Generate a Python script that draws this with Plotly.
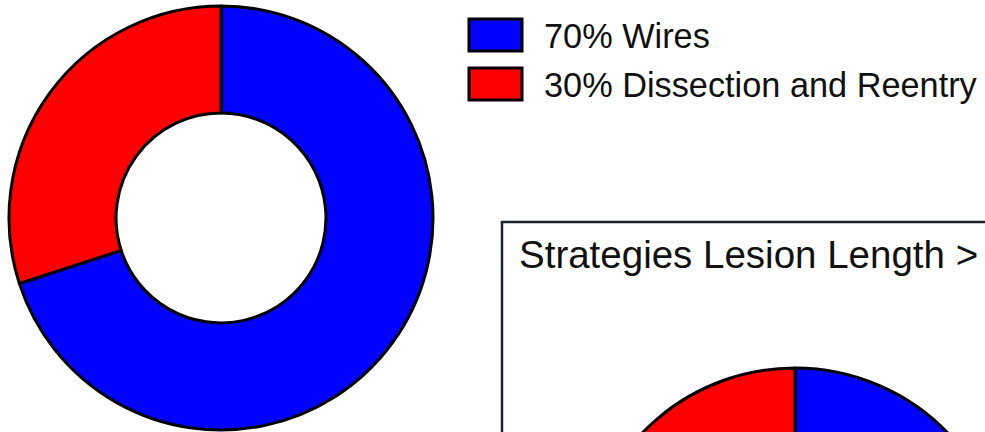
import plotly.graph_objects as go

# Crossing strategies: share of cases by technique
categories = ["Wires", "Dissection and Reentry"]
colors = ["#0000FF", "#FF0000"]
overall_share = [70, 30]
long_lesion_share = [55, 45]
panel_title = "Strategies Lesion Length >"

# Canvas is larger than the visible window so the lower chart runs off the edge
W, H = 1100, 820
VIEW_W, VIEW_H = 985, 432


def px_x(p):
    return p / W


def px_y(p):
    return 1 - p / H


FONT = "Liberation Sans, Arial, Helvetica, sans-serif"
TEXT_COLOR = "#111111"
EDGE = dict(color="#000000", width=3)

fig = go.Figure()

# Overall donut
fig.add_trace(go.Pie(
    labels=categories,
    values=overall_share,
    hole=0.495,
    sort=False,
    direction="clockwise",
    rotation=0,
    marker=dict(colors=colors, line=EDGE),
    textinfo="none",
    hoverinfo="label+percent",
    showlegend=False,
    domain=dict(x=[px_x(9), px_x(433)], y=[px_y(430), px_y(6)]),
))

# Long-lesion pie inside the framed panel
fig.add_trace(go.Pie(
    labels=categories,
    values=long_lesion_share,
    sort=False,
    direction="clockwise",
    rotation=0,
    marker=dict(colors=colors, line=EDGE),
    textinfo="none",
    hoverinfo="label+percent",
    showlegend=False,
    domain=dict(x=[px_x(583), px_x(1007)], y=[px_y(792), px_y(368)]),
))

shapes = []
annotations = []

# Panel frame
shapes.append(dict(
    type="rect", xref="paper", yref="paper",
    x0=px_x(502), x1=1.2, y0=-0.2, y1=px_y(222),
    line=dict(color="#1b2333", width=2.5), fillcolor="rgba(0,0,0,0)",
    layer="below",
))
annotations.append(dict(
    text=panel_title, xref="paper", yref="paper",
    x=px_x(517), y=px_y(254), xanchor="left", yanchor="middle",
    showarrow=False, font=dict(family=FONT, size=38.5, color=TEXT_COLOR),
))

# Legend drawn as swatches with labels
row_top = [19, 68]
for i, (cat, val, col) in enumerate(zip(categories, overall_share, colors)):
    top = row_top[i]
    shapes.append(dict(
        type="rect", xref="paper", yref="paper",
        x0=px_x(469), x1=px_x(522), y0=px_y(top + 32), y1=px_y(top),
        fillcolor=col, line=dict(color="#000000", width=3),
    ))
    annotations.append(dict(
        text=f"{val}% {cat}", xref="paper", yref="paper",
        x=px_x(542), y=px_y(top + 17), xanchor="left", yanchor="middle",
        showarrow=False, font=dict(family=FONT, size=34.3, color=TEXT_COLOR),
    ))

fig.update_layout(
    width=W, height=H,
    margin=dict(l=0, r=0, t=0, b=0),
    paper_bgcolor="#FFFFFF",
    plot_bgcolor="#FFFFFF",
    shapes=shapes,
    annotations=annotations,
)

# Clip the page to the visible window
clip_js = (
    "var gd = document.getElementById('{plot_id}');"
    "var wrap = gd.parentElement;"
    "wrap.style.width='%dpx'; wrap.style.height='%dpx'; wrap.style.overflow='hidden';"
    "document.body.style.margin='0'; document.body.style.overflow='hidden';"
    "document.documentElement.style.overflow='hidden';"
) % (VIEW_W, VIEW_H)

fig.write_html("out.html", post_script=clip_js)
